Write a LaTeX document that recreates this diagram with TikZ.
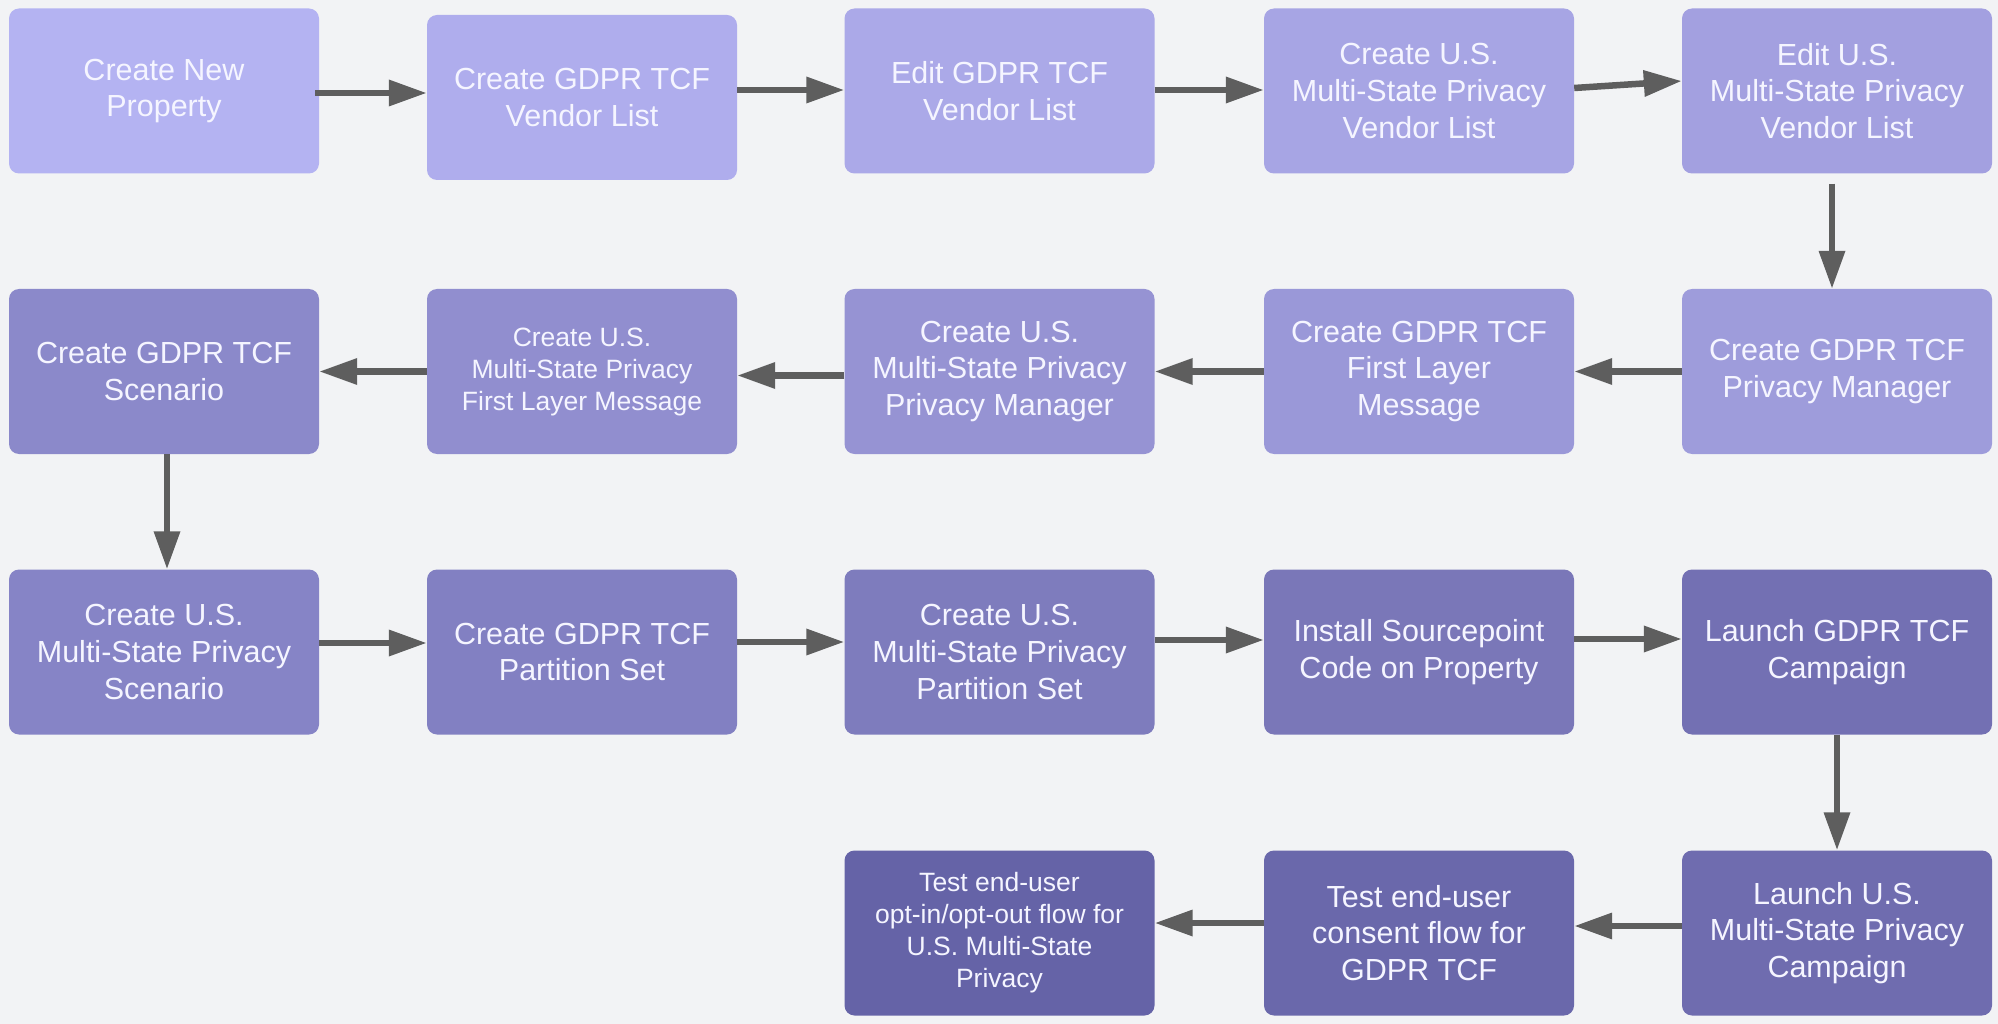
\documentclass[tikz,border=0pt]{standalone}
\usepackage{fontspec}
\setmainfont{Liberation Sans}
\usetikzlibrary{arrows.meta,calc}
\definecolor{bg}{HTML}{F2F3F5}
\definecolor{arr}{HTML}{5E5E5E}
\definecolor{txt}{HTML}{F5F5FF}
\definecolor{k1}{HTML}{B4B3F2}
\definecolor{k2}{HTML}{AFADED}
\definecolor{k3}{HTML}{ABA9E8}
\definecolor{k4}{HTML}{A7A5E4}
\definecolor{k5}{HTML}{A3A0E0}
\definecolor{k10}{HTML}{9E9CDB}
\definecolor{k9}{HTML}{9A98D8}
\definecolor{k8}{HTML}{9693D3}
\definecolor{k7}{HTML}{918ECF}
\definecolor{k6}{HTML}{8B89CA}
\definecolor{k11}{HTML}{8684C6}
\definecolor{k12}{HTML}{8280C2}
\definecolor{k13}{HTML}{7E7CBD}
\definecolor{k14}{HTML}{7A77B8}
\definecolor{k15}{HTML}{7370B3}
\definecolor{k16}{HTML}{6F6CAF}
\definecolor{k17}{HTML}{6A68AB}
\definecolor{k18}{HTML}{6563A7}
\tikzset{
  box/.style={rounded corners=10pt, minimum width=310pt, minimum height=165pt,
    inner sep=0pt, align=center, text=txt, font=\fontsize{30.5}{36.7}\selectfont},
  smallbox/.style={box, font=\fontsize{26.5}{32}\selectfont},
  flow/.style={draw=arr, line width=6.5pt, -{Triangle[length=38pt,width=25pt]}}
}
\begin{document}
\begin{tikzpicture}[x=1pt,y=-1pt]
\fill[bg] (0,0) rectangle (1998,1024);
\useasboundingbox (0,0) rectangle (1998,1024);
% row 1
\node[box, fill=k1] (b1) at (164,91) {Create New\\Property};
\node[box, fill=k2] (b2) at (582,97.5) {Create GDPR TCF\\Vendor List};
\node[box, fill=k3] (b3) at (999.5,91) {Edit GDPR TCF\\Vendor List};
\node[box, fill=k4] (b4) at (1419,91) {Create U.S.\\Multi-State Privacy\\Vendor List};
\node[box, fill=k5] (b5) at (1837,91) {Edit U.S.\\Multi-State Privacy\\Vendor List};
% row 2
\node[box, fill=k10] (b10) at (1837,371.5) {Create GDPR TCF\\Privacy Manager};
\node[box, fill=k9] (b9) at (1419,371.5) {Create GDPR TCF\\First Layer\\Message};
\node[box, fill=k8] (b8) at (999.5,371.5) {Create U.S.\\Multi-State Privacy\\Privacy Manager};
\node[smallbox, fill=k7] (b7) at (582,371.5) {Create U.S.\\Multi-State Privacy\\First Layer Message};
\node[box, fill=k6] (b6) at (164,371.5) {Create GDPR TCF\\Scenario};
% row 3
\node[box, fill=k11] (b11) at (164,652) {Create U.S.\\Multi-State Privacy\\Scenario};
\node[box, fill=k12] (b12) at (582,652) {Create GDPR TCF\\Partition Set};
\node[box, fill=k13] (b13) at (999.5,652) {Create U.S.\\Multi-State Privacy\\Partition Set};
\node[box, fill=k14] (b14) at (1419,652) {Install Sourcepoint\\Code on Property};
\node[box, fill=k15] (b15) at (1837,652) {Launch GDPR TCF\\Campaign};
% row 4
\node[box, fill=k16] (b16) at (1837,933) {Launch U.S.\\Multi-State Privacy\\Campaign};
\node[box, fill=k17] (b17) at (1419,933) {Test end-user\\consent flow for\\GDPR TCF};
\node[smallbox, fill=k18] (b18) at (999.5,933) {Test end-user\\opt-in/opt-out flow for\\U.S. Multi-State\\Privacy};
% connectors
\draw[flow] ($(b1.east)+(-4,2)$) -- ($(b2.west |- b1.east)+(0,2)$);
\draw[flow] ($(b2.east |- b3.west)+(0,-1)$) -- ($(b3.west)+(0,-1)$);
\draw[flow] ($(b3.east)+(0,-1)$) -- ($(b4.west)+(0,-1)$);
\draw[flow] ($(b4.east)+(0,-3)$) -- ($(b5.west)+(0,-10)$);
\draw[flow] ($(b5.south)+(-5,10)$) -- ($(b10.north)+(-5,0)$);
\draw[flow] (b10.west) -- (b9.east);
\draw[flow] (b9.west) -- (b8.east);
\draw[flow] ($(b8.west)+(0,4)$) -- ($(b7.east)+(0,4)$);
\draw[flow] (b7.west) -- (b6.east);
\draw[flow] ($(b6.south)+(3,0)$) -- ($(b11.north)+(3,0)$);
\draw[flow] ($(b11.east)+(0,-9)$) -- ($(b12.west)+(0,-9)$);
\draw[flow] ($(b12.east)+(0,-10)$) -- ($(b13.west)+(0,-10)$);
\draw[flow] ($(b13.east)+(0,-12)$) -- ($(b14.west)+(0,-12)$);
\draw[flow] ($(b14.east)+(0,-13)$) -- ($(b15.west)+(0,-13)$);
\draw[flow] (b15.south) -- (b16.north);
\draw[flow] ($(b16.west)+(0,-7)$) -- ($(b17.east)+(0,-7)$);
\draw[flow] ($(b17.west)+(0,-10)$) -- ($(b18.east)+(0,-10)$);
\end{tikzpicture}
\end{document}
